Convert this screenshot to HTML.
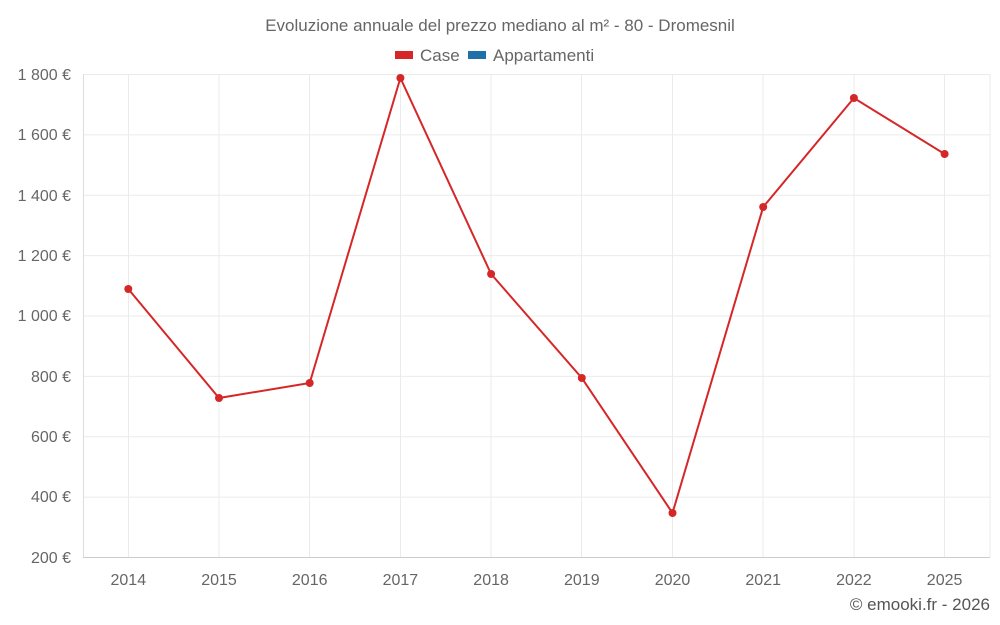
<!DOCTYPE html>
<html><head><meta charset="utf-8">
<style>
html,body{margin:0;padding:0;background:#fff;}
svg{display:block;font-family:"Liberation Sans",sans-serif;}
</style></head><body>
<svg width="1000" height="625" viewBox="0 0 1000 625" xmlns="http://www.w3.org/2000/svg">
<rect width="1000" height="625" fill="#fff"/>
<text x="500" y="31" text-anchor="middle" font-size="17" fill="#666">Evoluzione annuale del prezzo mediano al m² - 80 - Dromesnil</text>
<rect x="395" y="51" width="18" height="8" fill="#d62728"/>
<text x="420" y="61" font-size="17" fill="#666">Case</text>
<rect x="468" y="51" width="18" height="8" fill="#1f6fa8"/>
<text x="493" y="61" font-size="17" fill="#666">Appartamenti</text>
<g stroke="#ebebeb" stroke-width="1">
<line x1="83" y1="74.5" x2="990" y2="74.5"/>
<line x1="83" y1="134.9" x2="990" y2="134.9"/>
<line x1="83" y1="195.3" x2="990" y2="195.3"/>
<line x1="83" y1="255.6" x2="990" y2="255.6"/>
<line x1="83" y1="316" x2="990" y2="316"/>
<line x1="83" y1="376.4" x2="990" y2="376.4"/>
<line x1="83" y1="436.8" x2="990" y2="436.8"/>
<line x1="83" y1="497.1" x2="990" y2="497.1"/>
<line x1="128.5" y1="74" x2="128.5" y2="557"/>
<line x1="219" y1="74" x2="219" y2="557"/>
<line x1="309.5" y1="74" x2="309.5" y2="557"/>
<line x1="400.5" y1="74" x2="400.5" y2="557"/>
<line x1="491" y1="74" x2="491" y2="557"/>
<line x1="581.5" y1="74" x2="581.5" y2="557"/>
<line x1="672.5" y1="74" x2="672.5" y2="557"/>
<line x1="763" y1="74" x2="763" y2="557"/>
<line x1="854" y1="74" x2="854" y2="557"/>
<line x1="944.5" y1="74" x2="944.5" y2="557"/>
<line x1="990" y1="74" x2="990" y2="557"/>
</g>
<line x1="83.5" y1="74" x2="83.5" y2="557" stroke="#ddd"/>
<line x1="83" y1="557.5" x2="990" y2="557.5" stroke="#ccc"/>
<g font-size="16" fill="#666" text-anchor="end">
<text x="71" y="80">1 800 €</text>
<text x="71" y="140">1 600 €</text>
<text x="71" y="201">1 400 €</text>
<text x="71" y="261">1 200 €</text>
<text x="71" y="321">1 000 €</text>
<text x="71" y="382">800 €</text>
<text x="71" y="442">600 €</text>
<text x="71" y="502">400 €</text>
<text x="71" y="563">200 €</text>
</g>
<g font-size="16" fill="#666" text-anchor="middle">
<text x="128.3" y="585">2014</text>
<text x="219" y="585">2015</text>
<text x="309.7" y="585">2016</text>
<text x="400.4" y="585">2017</text>
<text x="491.1" y="585">2018</text>
<text x="581.8" y="585">2019</text>
<text x="672.5" y="585">2020</text>
<text x="763.2" y="585">2021</text>
<text x="853.9" y="585">2022</text>
<text x="944.6" y="585">2025</text>
</g>
<polyline fill="none" stroke="#d62728" stroke-width="2" points="128.3,289 219,398 309.7,383 400.4,78 491.1,274 581.8,378 672.5,513 763.2,207 853.9,98 944.6,154"/>
<g fill="#d62728">
<circle cx="128.3" cy="289" r="4"/><circle cx="219" cy="398" r="4"/><circle cx="309.7" cy="383" r="4"/>
<circle cx="400.4" cy="78" r="4"/><circle cx="491.1" cy="274" r="4"/><circle cx="581.8" cy="378" r="4"/>
<circle cx="672.5" cy="513" r="4"/><circle cx="763.2" cy="207" r="4"/><circle cx="853.9" cy="98" r="4"/>
<circle cx="944.6" cy="154" r="4"/>
</g>
<text x="990" y="610" text-anchor="end" font-size="17" fill="#555">© emooki.fr - 2026</text>
</svg>
</body></html>
